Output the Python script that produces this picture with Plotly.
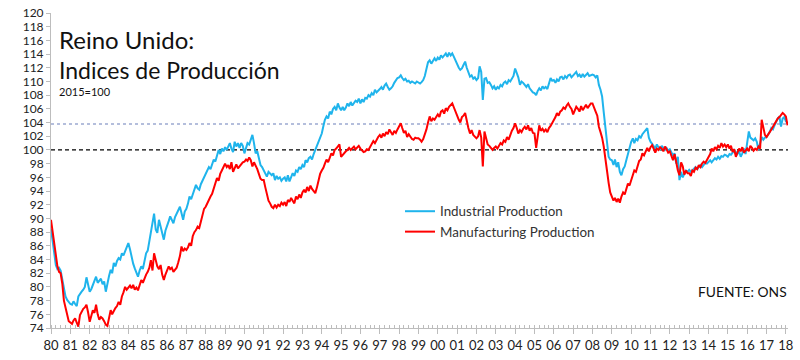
import pandas as pd
import plotly.graph_objects as go

start_month = "1980-01-01"

# Industrial Production (2015=100), monthly, Jan 1980 - Feb 2018
industrial = [
    88.5, 86.8, 84.8, 83.2, 82.6, 82.8, 82.4, 81.0, 79.6, 78.6, 78.1, 77.8,  # 1980
    77.5, 77.4, 77.9, 77.5, 77.2, 78.6, 79.0, 79.3, 79.6, 80.0, 81.4, 80.2,  # 1981
    79.3, 79.7, 80.3, 80.8, 81.5, 80.6, 80.9, 81.2, 80.4, 80.8, 79.3, 80.6,  # 1982
    81.6, 82.5, 82.0, 83.5, 83.0, 83.8, 84.2, 84.0, 84.9, 84.6, 85.3, 85.8,  # 1983
    86.4, 85.5, 84.4, 83.4, 82.7, 82.0, 81.5, 82.4, 83.0, 82.6, 83.8, 84.9,  # 1984
    85.3, 86.6, 88.3, 89.0, 90.7, 88.4, 87.9, 89.8, 88.7, 88.0, 86.9, 88.2,  # 1985
    88.8, 89.6, 90.3, 89.7, 89.3, 90.2, 90.8, 91.2, 91.7, 90.5, 89.8, 91.0,  # 1986
    91.4, 92.2, 93.2, 92.8, 93.5, 94.0, 94.9, 94.4, 94.2, 95.0, 95.5, 96.0,  # 1987
    96.4, 96.8, 97.5, 97.2, 98.0, 98.6, 98.3, 99.2, 100.0, 99.4, 100.2, 99.8,  # 1988
    100.4, 100.0, 100.6, 101.0, 100.2, 99.7, 101.2, 100.5, 101.0, 100.3, 101.0, 100.6,  # 1989
    99.5, 100.5, 101.0, 100.8, 101.5, 102.2, 101.0, 99.5, 99.8, 98.8, 97.8, 97.5,  # 1990
    97.0, 96.5, 96.1, 96.8, 96.6, 96.3, 96.6, 95.6, 96.2, 95.8, 96.0, 95.5,  # 1991
    95.8, 96.0, 95.4, 96.3, 95.4, 96.0, 96.6, 96.2, 97.0, 96.8, 97.5, 97.2,  # 1992
    97.8, 97.5, 98.5, 98.2, 98.8, 99.0, 98.6, 99.4, 100.0, 100.6, 101.2, 101.8,  # 1993
    102.4, 103.5, 104.4, 104.9, 104.6, 105.6, 105.2, 106.0, 106.3, 105.8, 106.8, 106.2,  # 1994
    105.8, 106.3, 105.8, 106.2, 106.8, 106.4, 107.0, 106.5, 106.9, 107.2, 107.0, 107.5,  # 1995
    106.8, 107.4, 107.0, 107.6, 107.5, 108.0, 107.8, 108.3, 108.0, 108.8, 108.4, 108.6,  # 1996
    108.9, 109.2, 108.8, 109.4, 109.7, 109.2, 108.8, 109.0, 109.3, 109.8, 110.2, 110.5,  # 1997
    110.6, 110.9, 110.5, 110.2, 110.4, 110.0, 110.1, 109.8, 110.0, 109.9, 109.7, 110.0,  # 1998
    109.8, 109.7, 109.9, 110.2, 110.8, 112.0, 112.8, 113.1, 112.6, 113.0, 113.4, 113.0,  # 1999
    113.5, 113.2, 113.8, 113.5, 113.9, 114.1, 113.6, 114.2, 113.8, 114.1, 113.6, 113.0,  # 2000
    112.6, 112.0, 111.7, 111.9, 112.4, 112.9, 112.0, 111.2, 110.7, 110.9, 110.4, 110.6,  # 2001
    110.2, 110.5, 112.2, 111.4, 107.3, 110.4, 110.5, 109.8, 109.9, 109.5, 109.0, 109.3,  # 2002
    108.8, 109.2, 109.0, 109.5, 109.3, 109.8, 110.0, 109.6, 110.2, 110.0, 110.4, 110.8,  # 2003
    111.9, 111.2, 110.6, 109.5, 110.0, 109.8, 109.4, 109.2, 109.6, 109.0, 108.7, 108.4,  # 2004
    108.3, 108.0, 108.6, 109.0, 108.7, 109.3, 109.0, 109.2, 108.9, 109.8, 110.5, 110.1,  # 2005
    110.2, 109.8, 110.3, 110.0, 110.6, 110.7, 110.3, 110.8, 110.5, 110.9, 111.0, 110.6,  # 2006
    110.9, 111.2, 111.4, 110.8, 111.0, 110.6, 111.1, 110.7, 111.0, 111.2, 110.8, 110.9,  # 2007
    111.0, 110.9, 110.6, 110.9, 109.5, 108.8, 107.8, 105.5, 103.4, 101.0, 99.0, 98.6,  # 2008
    98.5, 97.8, 98.6, 97.5, 98.2, 96.8, 96.3, 97.2, 97.6, 98.5, 99.5, 100.3,  # 2009
    101.2, 101.7, 101.0, 101.6, 101.4, 102.0, 101.8, 102.3, 102.6, 102.9, 103.2, 101.8,  # 2010
    101.2, 100.9, 100.6, 100.2, 100.8, 100.4, 100.0, 100.6, 100.2, 100.0, 100.3, 99.9,  # 2011
    100.1, 99.6, 99.2, 99.5, 98.0, 99.0, 95.6, 96.8, 96.0, 96.5, 97.0, 96.8,  # 2012
    97.1, 96.8, 97.0, 97.3, 97.5, 97.2, 97.6, 97.8, 97.5, 97.9, 98.1, 98.0,  # 2013
    98.3, 98.5, 98.2, 98.6, 98.8, 98.6, 99.0, 98.7, 99.1, 99.0, 99.3, 99.2,  # 2014
    99.0, 99.4, 99.3, 99.6, 100.0, 99.7, 99.4, 99.8, 99.0, 99.5, 100.2, 99.4,  # 2015
    101.0, 102.7, 101.8, 101.6, 101.4, 101.7, 101.2, 100.0, 100.8, 101.9, 101.5, 101.8,  # 2016
    101.9, 102.2, 102.6, 103.2, 103.0, 103.6, 104.2, 104.6, 104.9, 103.4, 104.6, 104.8,  # 2017
    104.2, 103.9,  # 2018
]

# Manufacturing Production (2015=100), monthly, Jan 1980 - Feb 2018
manufacturing = [
    89.8, 88.0, 86.0, 84.5, 83.0, 82.2, 82.0, 80.5, 78.0, 77.0, 75.8, 75.0,  # 1980
    74.8, 74.6, 75.1, 75.4, 74.8, 74.2, 75.9, 76.4, 76.8, 77.0, 77.4, 76.3,  # 1981
    74.9, 75.8, 76.6, 76.2, 77.4, 76.0, 75.2, 75.6, 75.4, 75.0, 74.5, 74.3,  # 1982
    75.5, 76.6, 76.0, 76.6, 76.9, 77.2, 77.8, 77.4, 78.6, 79.2, 80.0, 79.6,  # 1983
    80.0, 80.2, 79.8, 80.3, 79.6, 79.9, 79.5, 80.4, 81.0, 80.6, 81.4, 81.8,  # 1984
    82.2, 82.8, 83.9, 82.4, 84.9, 83.8, 83.0, 82.6, 83.2, 81.8, 81.0, 81.8,  # 1985
    82.4, 83.0, 82.6, 82.8, 82.2, 82.5, 82.8, 83.6, 84.5, 85.9, 85.2, 85.6,  # 1986
    85.4, 85.8, 86.4, 86.0, 87.4, 88.0, 88.3, 88.8, 88.6, 89.5, 90.6, 91.4,  # 1987
    91.7, 92.3, 92.8, 93.2, 93.6, 94.5, 95.2, 95.9, 95.5, 96.5, 97.0, 97.4,  # 1988
    98.0, 97.5, 97.8, 97.2, 98.2, 96.8, 97.5, 97.9, 97.3, 97.6, 98.0, 98.2,  # 1989
    98.3, 98.6, 98.4, 98.9, 98.5, 97.6, 98.2, 97.8, 97.2, 96.5, 95.8, 95.6,  # 1990
    95.6, 94.5, 93.5, 92.6, 92.2, 91.7, 91.5, 92.0, 91.6, 92.0, 91.8, 92.3,  # 1991
    92.0, 92.4, 91.8, 92.7, 92.4, 93.0, 92.6, 92.2, 93.2, 92.8, 93.5, 93.0,  # 1992
    93.8, 94.2, 93.8, 94.6, 94.0, 94.8, 94.3, 94.0, 93.7, 94.5, 95.5, 96.5,  # 1993
    97.0, 97.4, 98.0, 98.6, 98.2, 99.0, 99.5, 99.2, 100.0, 100.2, 100.5, 100.8,  # 1994
    99.0, 99.3, 99.6, 99.8, 100.0, 100.3, 100.0, 100.2, 100.5, 100.1, 100.3, 100.6,  # 1995
    100.2, 99.9, 99.7, 99.8, 100.1, 100.0, 100.4, 100.9, 101.3, 101.0, 101.6, 101.9,  # 1996
    102.2, 101.8, 102.4, 102.0, 102.6, 102.3, 103.0, 102.6, 102.2, 102.8, 102.5, 103.0,  # 1997
    103.4, 103.9, 103.2, 102.5, 102.8, 101.9, 102.3, 102.0, 101.6, 101.5, 101.8, 101.7,  # 1998
    101.7, 101.5, 101.2, 101.6, 102.2, 103.0, 104.0, 104.9, 104.2, 104.6, 104.4, 104.8,  # 1999
    105.2, 104.8, 105.6, 105.8, 105.3, 106.1, 105.8, 106.3, 106.6, 106.8, 106.2, 105.7,  # 2000
    105.0, 104.4, 104.0, 104.8, 105.0, 105.4, 104.2, 103.2, 102.4, 102.9, 102.2, 102.0,  # 2001
    101.7, 102.0, 102.9, 101.8, 97.6, 102.7, 101.5, 100.8, 100.6, 100.2, 100.0, 100.3,  # 2002
    100.5, 100.2, 100.7, 101.0, 100.8, 101.4, 101.2, 101.9, 101.5, 102.2, 102.8, 103.2,  # 2003
    103.9, 103.2, 102.4, 102.9, 102.6, 103.1, 103.4, 103.0, 103.6, 102.8, 103.2, 102.5,  # 2004
    102.4, 100.3, 102.2, 103.6, 102.8, 103.1, 102.7, 103.0, 102.6, 103.2, 103.5, 103.9,  # 2005
    104.2, 104.8, 105.4, 105.0, 105.6, 105.8, 106.2, 106.0, 106.5, 106.8, 106.3, 106.0,  # 2006
    105.2, 105.8, 106.3, 106.0, 105.6, 106.4, 105.8, 106.2, 106.6, 106.1, 106.4, 106.8,  # 2007
    106.8, 106.0, 105.6, 105.0, 103.4, 102.6, 101.8, 100.5, 99.0, 97.0, 95.2, 93.8,  # 2008
    93.2, 92.6, 93.0, 92.4, 92.9, 92.3, 93.2, 93.8, 93.5, 94.2, 95.1, 94.8,  # 2009
    95.6, 96.2, 97.0, 96.8, 97.8, 98.4, 98.6, 99.5, 99.2, 99.8, 100.3, 99.8,  # 2010
    100.4, 100.7, 100.2, 99.6, 100.2, 100.0, 100.4, 100.2, 99.8, 100.5, 100.1, 99.6,  # 2011
    99.8, 99.2, 98.5, 99.4, 98.0, 97.0, 96.3, 98.2, 97.6, 96.4, 97.0, 96.6,  # 2012
    96.6, 96.2, 97.0, 96.8, 97.4, 97.2, 97.8, 97.5, 98.0, 98.3, 98.1, 98.5,  # 2013
    98.8, 99.4, 100.2, 99.8, 100.4, 100.1, 100.6, 100.3, 101.0, 100.5, 100.8, 100.4,  # 2014
    100.8, 100.2, 100.6, 99.7, 100.1, 99.0, 99.6, 100.2, 99.8, 100.4, 99.6, 100.0,  # 2015
    100.2, 99.8, 100.6, 100.3, 99.9, 100.2, 100.0, 100.5, 100.2, 104.4, 103.0, 102.2,  # 2016
    101.9, 102.2, 102.6, 103.0, 103.4, 103.8, 104.2, 104.6, 104.8, 105.2, 105.4, 105.2,  # 2017
    104.9, 103.6,  # 2018
]

year_ticks = list(range(1980, 2019))
year_labels = [f"{y % 100:02d}" for y in year_ticks]
y_ticks = list(range(74, 121, 2))
reference_level = 100
latest_level = 103.8

dates = pd.date_range(start_month, periods=len(industrial), freq="MS")
tick_dates = [pd.Timestamp(f"{y}-01-01") for y in year_ticks]

FONT = "Lato, 'Open Sans', sans-serif"

W, H = 800, 360
plot_l, plot_r, plot_t, plot_b = 51, 788, 13, 328
def px(xp):
    return (xp - plot_l) / (plot_r - plot_l)
def py(yp):
    return (plot_b - yp) / (plot_b - plot_t)

fig = go.Figure()
fig.add_trace(go.Scatter(x=dates, y=industrial, mode="lines", name="Industrial Production",
                         line=dict(color="#1fb4ec", width=2)))
fig.add_trace(go.Scatter(x=dates, y=manufacturing, mode="lines", name="Manufacturing Production",
                         line=dict(color="#ff0000", width=2)))

fig.add_hline(y=latest_level, line=dict(color="#b4bedc", width=2, dash="dot"), layer="below")
fig.add_hline(y=reference_level, line=dict(color="black", width=1.3, dash="4px,3px"), layer="below")

fig.update_layout(
    width=W, height=H,
    margin=dict(l=plot_l, r=W - plot_r, t=plot_t, b=H - plot_b, autoexpand=False),
    paper_bgcolor="white", plot_bgcolor="white",
    font=dict(family=FONT, size=13, color="#222"),
    showlegend=True,
    legend=dict(x=px(400), y=py(196), xanchor="left", yanchor="top",
                bgcolor="rgba(0,0,0,0)", font=dict(size=13.4, color="#333"),
                tracegroupgap=3, itemwidth=30),
    xaxis=dict(
        range=[pd.Timestamp("1980-01-01"), pd.Timestamp("2018-02-10")],
        tickmode="array", tickvals=tick_dates, ticktext=year_labels,
        showgrid=False, zeroline=False, automargin=False, ticklabeloverflow="allow",
        showline=True, linecolor="#bdbdbd", linewidth=1,
        ticks="outside", ticklen=5, tickcolor="#bdbdbd",
        tickfont=dict(size=13, color="#222"),
        minor=dict(dtick="M3", ticks="inside", ticklen=3, tickcolor="#bdbdbd", showgrid=False),
    ),
    yaxis=dict(
        range=[74, 120], tickmode="array", tickvals=y_ticks,
        showgrid=False, zeroline=False, automargin=False, ticklabeloverflow="allow",
        showline=True, linecolor="#bdbdbd", linewidth=1,
        ticks="outside", ticklen=4, tickcolor="#bdbdbd",
        tickfont=dict(size=12, color="#222"),
    ),
)

fig.add_annotation(text="Reino Unido:", x=px(57), y=py(39), xref="paper", yref="paper",
                   showarrow=False, xanchor="left", yanchor="middle",
                   font=dict(size=24, color="#111"))
fig.add_annotation(text="Indices de Producción", x=px(57), y=py(70), xref="paper", yref="paper",
                   showarrow=False, xanchor="left", yanchor="middle",
                   font=dict(size=23, color="#111"))
fig.add_annotation(text="2015=100", x=px(57), y=py(91), xref="paper", yref="paper",
                   showarrow=False, xanchor="left", yanchor="middle",
                   font=dict(size=11, color="#111"))
fig.add_annotation(text="FUENTE: ONS", x=px(789), y=py(291), xref="paper", yref="paper",
                   showarrow=False, xanchor="right", yanchor="middle",
                   font=dict(size=13.8, color="#111"))

fig.write_html("out.html", config={"displayModeBar": False},
               post_script="document.body.style.margin='0';")
